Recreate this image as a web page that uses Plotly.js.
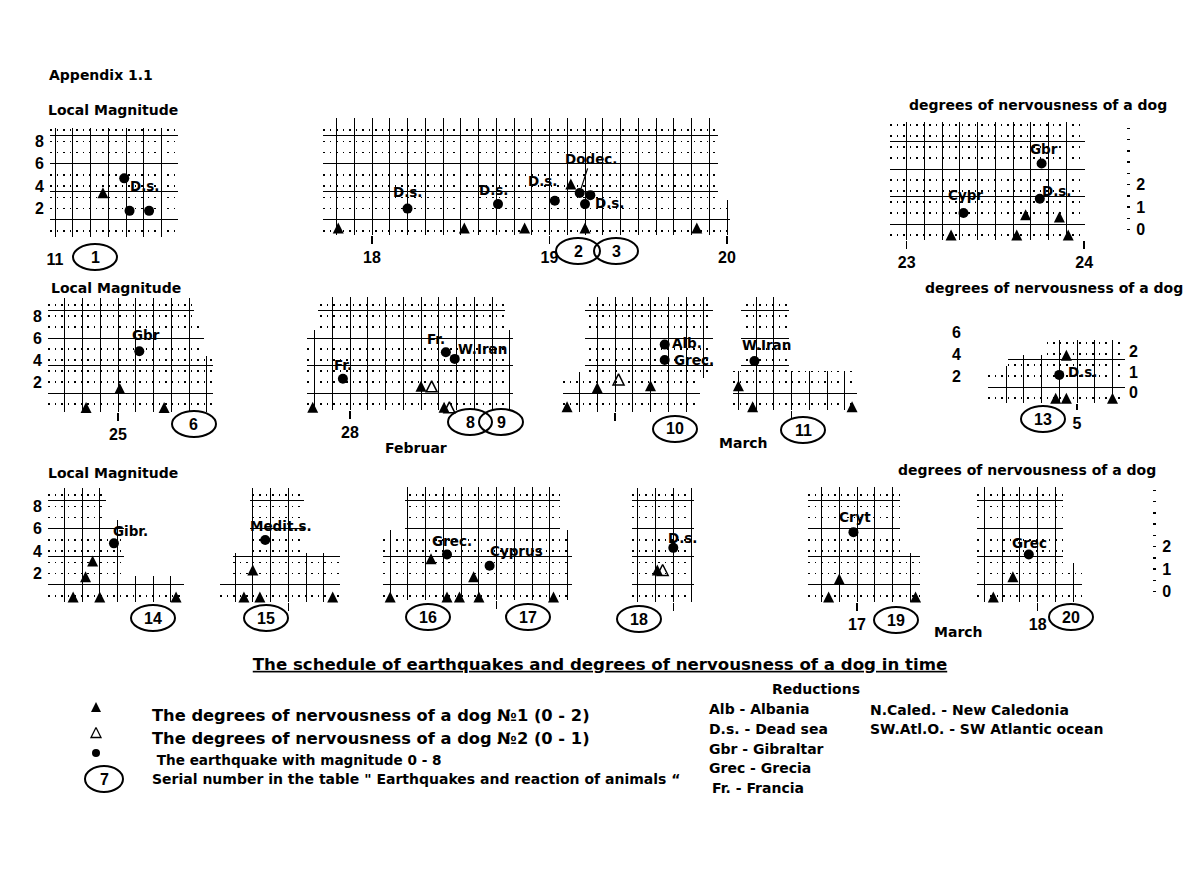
<!DOCTYPE html>
<html><head><meta charset="utf-8">
<script src="https://cdn.plot.ly/plotly-3.0.1.min.js"></script>
<style>html,body{margin:0;padding:0;background:#fff}#chart{width:1200px;height:869px}</style>
</head><body><div id="chart"></div>
<script>
// ================= DATA =================
// x = day of month, quake = local magnitude (0-8), dog = degree of nervousness (0-2)
// Panel serial 1 (day 11)
const p01_dog1_day = [11.27];
const p01_dog1_deg = [1.6];
const p01_quake_day = [11.39, 11.42, 11.53];
const p01_quake_mag = [4.7, 1.8, 1.8];
const p01_quake_place = ['D.s.', '', ''];
const p01_date_ticks = [11];
const p01_date_labels = ['11'];
const p01_mag_ticks = [2, 4, 6, 8];
// Panel serials 2,3 (days 18-20)
const p02_dog1_day = [17.81, 18.52, 18.86, 19.12, 19.20, 19.83];
const p02_dog1_deg = [0, 0, 0, 2.0, 0, 0];
const p02_quake_day = [18.20, 18.71, 19.03, 19.17, 19.23, 19.20];
const p02_quake_mag = [2.0, 2.4, 2.7, 3.4, 3.2, 2.4];
const p02_quake_place = ['D.s.', 'D.s.', 'D.s.', 'Dodec.', '', 'D.s.'];
const p02_date_ticks = [18, 19, 20];
const p02_date_labels = ['18', '19', '20'];
// Panel days 23-24
const p03_dog1_day = [23.25, 23.62, 23.67, 23.86, 23.91];
const p03_dog1_deg = [0, 0, 0.9, 0.8, 0];
const p03_quake_day = [23.32, 23.76, 23.75];
const p03_quake_mag = [2.0, 6.5, 3.3];
const p03_quake_place = ['Cypr', 'Gbr', 'D.s.'];
const p03_date_ticks = [23, 24];
const p03_date_labels = ['23', '24'];
const p03_dog_ticks = [0, 1, 2];
// Panel serial 6 (day 25)
const p06_dog1_day = [24.82, 25.01, 25.26];
const p06_dog1_deg = [0, 0.9, 0];
const p06_quake_day = [25.12];
const p06_quake_mag = [4.8];
const p06_quake_place = ['Gbr'];
const p06_date_ticks = [25];
const p06_date_labels = ['25'];
const p06_mag_ticks = [2, 4, 6, 8];
// Panel serials 8,9 (day 28, Februar)
const p08_dog1_day = [27.79, 28.40, 28.53];
const p08_dog1_deg = [0, 1.0, 0];
const p08_dog2_day = [28.46, 28.56];
const p08_dog2_deg = [1.0, 0];
const p08_quake_day = [27.96, 28.54, 28.59];
const p08_quake_mag = [2.3, 4.7, 4.1];
const p08_quake_place = ['Fr.', 'Fr.', 'W.Iran'];
const p08_date_ticks = [28];
const p08_date_labels = ['28'];
// Panel serial 10 (March)
const p10_dog1_day = [1.73, 1.90, 2.20];
const p10_dog1_deg = [0, 0.9, 1.0];
const p10_dog2_day = [2.02];
const p10_dog2_deg = [1.3];
const p10_quake_day = [2.28, 2.28];
const p10_quake_mag = [5.4, 4.0];
const p10_quake_place = ['Alb.', 'Grec.'];
const p10_date_ticks = [2];
const p10_date_labels = [''];
// Panel serial 11
const p11_dog1_day = [3.70, 3.78, 4.34];
const p11_dog1_deg = [1.0, 0, 0];
const p11_quake_day = [3.79];
const p11_quake_mag = [3.9];
const p11_quake_place = ['W.Iran'];
const p11_date_ticks = [4];
const p11_date_labels = [''];
// Panel serial 13 (day 5)
const p13_dog1_day = [4.88, 4.94, 4.94, 5.20];
const p13_dog1_deg = [0, 2.1, 0, 0];
const p13_quake_day = [4.90];
const p13_quake_mag = [2.1];
const p13_quake_place = ['D.s.'];
const p13_date_ticks = [5];
const p13_date_labels = ['5'];
const p13_mag_ticks = [2, 4, 6];
const p13_dog_ticks = [0, 1, 2];
// Panel serial 14
const p14_dog1_day = [9.55, 9.62, 9.66, 9.70, 10.13];
const p14_dog1_deg = [0, 0.9, 1.6, 0, 0];
const p14_quake_day = [9.78];
const p14_quake_mag = [4.7];
const p14_quake_place = ['Gibr.'];
const p14_mag_ticks = [2, 4, 6, 8];
// Panel serial 15
const p15_dog1_day = [11.75, 11.80, 11.84, 12.25];
const p15_dog1_deg = [0, 1.2, 0, 0];
const p15_quake_day = [11.87];
const p15_quake_mag = [5.0];
const p15_quake_place = ['Medit.s.'];
const p15_date_ticks = [12];
const p15_date_labels = [''];
// Panel serials 16,17
const p16_dog1_day = [13.40, 13.63, 13.72, 13.79, 13.87, 13.90, 14.32];
const p16_dog1_deg = [0, 1.7, 0, 0, 0.9, 0, 0];
const p16_quake_day = [13.72, 13.96];
const p16_quake_mag = [3.7, 2.7];
const p16_quake_place = ['Grec.', 'Cyprus'];
const p16_date_ticks = [14];
const p16_date_labels = [''];
// Panel serial 18
const p18_dog1_day = [15.91];
const p18_dog1_deg = [1.2];
const p18_dog2_day = [15.94];
const p18_dog2_deg = [1.2];
const p18_quake_day = [16.00];
const p18_quake_mag = [4.3];
const p18_quake_place = ['D.s.'];
const p18_date_ticks = [16];
const p18_date_labels = [''];
// Panel serial 19 (day 17, March)
const p19_dog1_day = [16.84, 16.90, 17.33];
const p19_dog1_deg = [0, 0.8, 0];
const p19_quake_day = [16.98];
const p19_quake_mag = [5.7];
const p19_quake_place = ['Cryt'];
const p19_date_ticks = [17];
const p19_date_labels = ['17'];
// Panel serial 20 (day 18)
const p20_dog1_day = [17.75, 17.86];
const p20_dog1_deg = [0, 0.9];
const p20_quake_day = [17.95];
const p20_quake_mag = [3.7];
const p20_quake_place = ['Grec'];
const p20_date_ticks = [18];
const p20_date_labels = ['18'];
const p20_dog_ticks = [0, 1, 2];

// serial numbers of the table "Earthquakes and reaction of animals"
const serial_numbers = ['1', '2', '3', '6', '8', '9', '10', '11', '13', '14', '15', '16', '17', '18', '19', '20'];
const legend_texts = [
  'The degrees of nervousness of a dog №1 (0 - 2)',
  'The degrees of nervousness of a dog №2 (0 - 1)',
  ' The earthquake with magnitude 0 - 8',
  'Serial number in the table " Earthquakes and reaction of animals “'
];
const legend_serial = '7';
const reductions_left = ['Alb - Albania', 'D.s. - Dead sea', 'Gbr - Gibraltar', 'Grec - Grecia', 'Fr. - Francia'];
const reductions_right = ['N.Caled. - New Caledonia', 'SW.Atl.O. - SW Atlantic ocean'];

// ================= LAYOUT / STYLE =================
const W = 1200, H = 869, PX_PER_DAY = 177.5, TRI = 11;
const BLACK = '#000';
const TXT = {family: 'DejaVu Sans, sans-serif', size: 14, color: BLACK, weight: 'bold'};
const NUM = {family: 'Liberation Sans, Arial, sans-serif', size: 16, color: BLACK, weight: 'bold'};
const LBL = {family: 'DejaVu Sans, sans-serif', size: 13.5, color: BLACK, weight: 'bold'};
const fx = p => p / W;
const fy = p => 1 - p / H;

// box = [left, right, top, bottom] in px; masks = blank (white) parts of the hand-drawn grids, px
const panels = [
  {dog1: [p01_dog1_day, p01_dog1_deg], quake: [p01_quake_day, p01_quake_mag, p01_quake_place], dates: [p01_date_ticks, p01_date_labels], magTicks: p01_mag_ticks,
   box: [50, 178, 128, 237], anchor: [11, 55], mag0: 231, mu: 11.2, dog0: 228, du: 22, tickInk: false, offsets: [[21, 8], [0, 0], [0, 0]]},
  {dog1: [p02_dog1_day, p02_dog1_deg], quake: [p02_quake_day, p02_quake_mag, p02_quake_place], dates: [p02_date_ticks, p02_date_labels],
   box: [323, 730, 118, 235], anchor: [18, 372], mag0: 231, mu: 11.2, dog0: 228, du: 22, offsets: [[0, -17], [-4, -14], [-12, -20], [11, -34], [0, 0], [25, -1]], arrowIdx: 3,
   masks: [[718, 732, 116, 200]]},
  {dog1: [p03_dog1_day, p03_dog1_deg], quake: [p03_quake_day, p03_quake_mag, p03_quake_place], dates: [p03_date_ticks, p03_date_labels], dogTicks: p03_dog_ticks,
   box: [890, 1085, 122, 240], anchor: [23, 906.7], mag0: 235, mu: 11, dog0: 235, du: 22.5, dogPos: 1126, dashes: true, offsets: [[2, -18], [2, -15], [17, -8]]},
  {dog1: [p06_dog1_day, p06_dog1_deg], quake: [p06_quake_day, p06_quake_mag, p06_quake_place], dates: [p06_date_ticks, p06_date_labels], magTicks: p06_mag_ticks,
   box: [48, 213, 298, 412], anchor: [25, 118], mag0: 404, mu: 11, dog0: 407.5, du: 21, offsets: [[7, -16]],
   masks: [[194, 215, 296, 320], [204, 215, 320, 356]]},
  {dog1: [p08_dog1_day, p08_dog1_deg], dog2: [p08_dog2_day, p08_dog2_deg], quake: [p08_quake_day, p08_quake_mag, p08_quake_place], dates: [p08_date_ticks, p08_date_labels],
   box: [307, 513, 297, 410], anchor: [28, 350], mag0: 404, mu: 11, dog0: 407.3, du: 21, offsets: [[0, -14], [-10, -13], [28, -10]],
   masks: [[305, 318, 295, 330], [505, 515, 295, 330]]},
  {dog1: [p10_dog1_day, p10_dog1_deg], dog2: [p10_dog2_day, p10_dog2_deg], quake: [p10_quake_day, p10_quake_mag, p10_quake_place], dates: [p10_date_ticks, p10_date_labels],
   box: [563, 713, 297, 412], anchor: [2, 615], mag0: 404, mu: 11, dog0: 406.7, du: 21, offsets: [[22, -2], [29, 0]],
   masks: [[561, 585, 295, 372], [700, 715, 378, 414]]},
  {dog1: [p11_dog1_day, p11_dog1_deg], quake: [p11_quake_day, p11_quake_mag, p11_quake_place], dates: [p11_date_ticks, p11_date_labels],
   box: [733, 857, 297, 410], anchor: [4, 791.7], mag0: 404, mu: 11, dog0: 406.7, du: 21, offsets: [[12, -16]],
   masks: [[789, 859, 295, 371], [731, 741, 295, 371]]},
  {dog1: [p13_dog1_day, p13_dog1_deg], quake: [p13_quake_day, p13_quake_mag, p13_quake_place], dates: [p13_date_ticks, p13_date_labels], magTicks: p13_mag_ticks, dogTicks: p13_dog_ticks,
   box: [988, 1125, 327, 403], anchor: [5, 1077], mag0: 398, mu: 11, dog0: 398.3, du: 20.5, magPos: 966, dogPos: 1125, dashes: false, tickLen: 6, offsets: [[24, -3]],
   masks: [[986, 1127, 325, 340], [986, 1045, 340, 355], [986, 1008, 355, 366]]},
  {dog1: [p14_dog1_day, p14_dog1_deg], quake: [p14_quake_day, p14_quake_mag, p14_quake_place], magTicks: p14_mag_ticks,
   box: [48, 184, 488, 602], anchor: [10, 153], mag0: 596, mu: 11.2, dog0: 597, du: 22.5, offsets: [[17, -12]],
   masks: [[106, 186, 486, 520], [124, 186, 520, 576]]},
  {dog1: [p15_dog1_day, p15_dog1_deg], quake: [p15_quake_day, p15_quake_mag, p15_quake_place], dates: [p15_date_ticks, p15_date_labels],
   box: [220, 340, 488, 602], anchor: [12, 288.3], mag0: 596, mu: 11.2, dog0: 597, du: 22.5, offsets: [[16, -14]],
   masks: [[218, 250, 486, 553], [304, 342, 486, 553], [218, 233, 553, 575]]},
  {dog1: [p16_dog1_day, p16_dog1_deg], quake: [p16_quake_day, p16_quake_mag, p16_quake_place], dates: [p16_date_ticks, p16_date_labels],
   box: [383, 572, 487, 600], anchor: [14, 496.7], mag0: 596, mu: 11.2, dog0: 597, du: 22.5, offsets: [[5, -14], [27, -15]],
   masks: [[381, 405, 485, 530], [560, 574, 485, 530]]},
  {dog1: [p18_dog1_day, p18_dog1_deg], dog2: [p18_dog2_day, p18_dog2_deg], quake: [p18_quake_day, p18_quake_mag, p18_quake_place], dates: [p18_date_ticks, p18_date_labels],
   box: [632, 694, 488, 602], anchor: [16, 673.3], mag0: 596, mu: 11.2, dog0: 597, du: 22.5, offsets: [[10, -10]]},
  {dog1: [p19_dog1_day, p19_dog1_deg], quake: [p19_quake_day, p19_quake_mag, p19_quake_place], dates: [p19_date_ticks, p19_date_labels],
   box: [808, 920, 487, 602], anchor: [17, 857], mag0: 596, mu: 11.2, dog0: 597, du: 22.5, offsets: [[2, -15]],
   masks: [[900, 922, 485, 553]]},
  {dog1: [p20_dog1_day, p20_dog1_deg], quake: [p20_quake_day, p20_quake_mag, p20_quake_place], dates: [p20_date_ticks, p20_date_labels], dogTicks: p20_dog_ticks,
   box: [977, 1082, 487, 602], anchor: [18, 1037.7], mag0: 596, mu: 11.2, dog0: 597, du: 22.5, dogPos: 1152, dashes: true, offsets: [[1, -12]],
   masks: [[1063, 1084, 485, 563]]}
];

// ellipse centres (px) for serial_numbers, in the same order
const ellipse_centers = [[95, 257], [578, 251], [616, 251], [194, 424], [470, 422], [501, 422], [675, 429], [803, 430],
  [1043, 419], [153, 618], [266, 618], [428, 617], [528, 617], [639, 619], [896, 620], [1071, 617]];

const layout = {
  width: W, height: H, margin: {l: 0, r: 0, t: 0, b: 0},
  paper_bgcolor: '#fff', plot_bgcolor: 'rgba(0,0,0,0)',
  showlegend: false, hovermode: false,
  annotations: [], shapes: [],
  title: {text: '<u>The schedule of earthquakes and degrees of nervousness of a dog in time</u>',
    x: fx(600), y: fy(664), xref: 'paper', yref: 'paper', xanchor: 'center', yanchor: 'middle',
    font: {family: 'DejaVu Sans, sans-serif', size: 16.6, color: BLACK, weight: 'bold'}}
};
const traces = [];
let xn = 0, yn = 0;
const newAx = l => { const n = (l === 'x') ? ++xn : ++yn; return n === 1 ? l : l + n; };
const key = id => id[0] + 'axis' + id.slice(1);
const noHover = 'skip';

panels.forEach(P => {
  const [x0, x1, y0, y1] = P.box;
  const [aDay, aPx] = P.anchor;
  const toDay = px => aDay + (px - aPx) / PX_PER_DAY;
  const toMag = py => (P.mag0 - py) / P.mu;
  const xr = [toDay(x0), toDay(x1)];
  const magR = [toMag(y1), toMag(y0)];
  const tip0 = P.dog0 - TRI / 2;
  const dogR = [(tip0 - y1) / P.du, (tip0 - y0) / P.du];
  const xg = newAx('x'), yg = newAx('y'), yd = newAx('y');
  layout[key(xg)] = {type: 'linear', domain: [fx(x0), fx(x1)], range: xr, anchor: yg,
    showgrid: true, gridcolor: BLACK, gridwidth: 1, tick0: 0, dtick: 0.1,
    showticklabels: false, ticks: '', zeroline: false, showline: false, fixedrange: true};
  layout[key(yg)] = {type: 'linear', domain: [fy(y1), fy(y0)], range: magR, anchor: xg,
    showgrid: true, gridcolor: BLACK, gridwidth: 1, tick0: 1, dtick: 2.5,
    showticklabels: false, ticks: '', zeroline: false, showline: false, fixedrange: true,
    minor: {tick0: 0, dtick: 1, showgrid: true, gridcolor: BLACK, gridwidth: 1.5, griddash: '1.5px,5px'}};
  const ydAx = {type: 'linear', overlaying: yg, range: dogR, showgrid: false, zeroline: false, showline: false, fixedrange: true};
  if (P.dogTicks) {
    Object.assign(ydAx, {anchor: 'free', position: fx(P.dogPos), side: 'right', tickmode: 'array',
      tickvals: P.dogTicks, ticks: P.dashes ? 'outside' : '', ticklen: 3, tickwidth: 1.5, tickcolor: BLACK,
      ticklabelshift: -TRI / 2, ticklabelstandoff: 3, tickfont: NUM});
    if (P.dashes) ydAx.minor = {dtick: 0.5, tick0: 0, ticks: 'outside', ticklen: 3, tickwidth: 1.5, tickcolor: BLACK};
  } else {
    ydAx.anchor = xg; ydAx.visible = false;
  }
  layout[key(yd)] = ydAx;

  // white masks carving the irregular outline of the hand-drawn grid
  (P.masks || []).forEach(m => layout.shapes.push({type: 'rect', xref: xg, yref: yg, layer: 'between',
    x0: toDay(m[0]), x1: toDay(m[1]), y0: toMag(m[3]), y1: toMag(m[2]), fillcolor: '#fff', line: {width: 0}}));

  if (P.dates) {
    const xl = newAx('x');
    layout[key(xl)] = {type: 'linear', overlaying: xg, anchor: yg, side: 'bottom', range: xr,
      tickmode: 'array', tickvals: P.dates[0], ticktext: P.dates[1], ticks: 'outside',
      ticklen: P.tickLen || 8, tickwidth: 1.5, tickcolor: P.tickInk === false ? 'rgba(0,0,0,0)' : BLACK,
      showgrid: false, zeroline: false, showline: false, tickfont: NUM, fixedrange: true};
    traces.push({type: 'scatter', x: [], y: [], xaxis: xl, yaxis: yg, hoverinfo: noHover});
  }
  if (P.magTicks) {
    const yl = newAx('y');
    const ax = {type: 'linear', overlaying: yg, range: magR, side: 'left', tickmode: 'array', tickvals: P.magTicks,
      ticks: '', showgrid: false, zeroline: false, showline: false, tickfont: NUM, ticklabelstandoff: 5, fixedrange: true};
    if (P.magPos) { ax.anchor = 'free'; ax.position = fx(P.magPos); } else { ax.anchor = xg; }
    layout[key(yl)] = ax;
    traces.push({type: 'scatter', x: [], y: [], xaxis: xg, yaxis: yl, hoverinfo: noHover});
  }
  // earthquakes
  traces.push({type: 'scatter', mode: 'markers', x: P.quake[0], y: P.quake[1], xaxis: xg, yaxis: yg,
    marker: {symbol: 'circle', size: 10, color: BLACK}, cliponaxis: false, hoverinfo: noHover});
  // dog No1
  traces.push({type: 'scatter', mode: 'markers', x: P.dog1[0], y: P.dog1[1], xaxis: xg, yaxis: yd,
    marker: {symbol: 'arrow-up', size: TRI, color: BLACK, line: {width: 0}}, cliponaxis: false, hoverinfo: noHover});
  // dog No2
  if (P.dog2) traces.push({type: 'scatter', mode: 'markers', x: P.dog2[0], y: P.dog2[1], xaxis: xg, yaxis: yd,
    marker: {symbol: 'arrow-up-open', size: TRI, color: BLACK, line: {color: BLACK, width: 1.5}}, cliponaxis: false, hoverinfo: noHover});
  // place labels
  P.quake[2].forEach((t, i) => {
    if (!t) return;
    const [dx, dy] = P.offsets[i];
    const a = {xref: xg, yref: yg, x: P.quake[0][i], y: P.quake[1][i], text: t, font: LBL};
    if (P.arrowIdx === i) {
      Object.assign(a, {showarrow: true, ax: dx, ay: dy, arrowhead: 0, arrowwidth: 1.2, arrowcolor: BLACK, standoff: 5});
    } else {
      Object.assign(a, {showarrow: false, xshift: dx, yshift: -dy});
    }
    layout.annotations.push(a);
  });
});

// ---- paper texts ----
function paperText(text, x, y, font, xanchor) {
  layout.annotations.push({text: text, xref: 'paper', yref: 'paper', x: fx(x), y: fy(y),
    xanchor: xanchor || 'center', yanchor: 'middle', showarrow: false, font: font});
}
paperText('Appendix 1.1', 101, 75, TXT);
[[113, 110], [116, 288], [113, 473]].forEach(p => paperText('Local Magnitude', p[0], p[1], TXT));
[[1038, 105], [1054, 288], [1027, 470]].forEach(p => paperText('degrees of nervousness of a dog', p[0], p[1], TXT));
paperText('Februar', 416, 448, TXT);
paperText('March', 743, 443, TXT);
paperText('March', 958, 632, TXT);

// ---- serial-number ellipses ----
function ellipse(label, cx, cy, w, h) {
  layout.shapes.push({type: 'circle', xref: 'paper', yref: 'paper', x0: fx(cx - w / 2), x1: fx(cx + w / 2),
    y0: fy(cy + h / 2), y1: fy(cy - h / 2), line: {color: BLACK, width: 2}, fillcolor: 'rgba(0,0,0,0)'});
  paperText(label, cx, cy, NUM);
}
serial_numbers.forEach((s, i) => ellipse(s, ellipse_centers[i][0], ellipse_centers[i][1], 44, 26));

// ---- legend ----
const xL = newAx('x'), yL = newAx('y');
layout[key(xL)] = {type: 'linear', domain: [fx(86), fx(106)], range: [-1, 1], visible: false, anchor: yL, fixedrange: true};
layout[key(yL)] = {type: 'linear', domain: [fy(790), fy(690)], range: [(790 - 702) / 25.5, (690 - 702) / 25.5], visible: false, anchor: xL, fixedrange: true};
traces.push({type: 'scatter', mode: 'markers', x: [0], y: [0], xaxis: xL, yaxis: yL, marker: {symbol: 'arrow-up', size: 10, color: BLACK}, cliponaxis: false, hoverinfo: noHover});
traces.push({type: 'scatter', mode: 'markers', x: [0], y: [1], xaxis: xL, yaxis: yL, marker: {symbol: 'arrow-up-open', size: 10, color: BLACK, line: {color: BLACK, width: 1.3}}, cliponaxis: false, hoverinfo: noHover});
traces.push({type: 'scatter', mode: 'markers', x: [0], y: [2], xaxis: xL, yaxis: yL, marker: {symbol: 'circle', size: 8, color: BLACK}, cliponaxis: false, hoverinfo: noHover});
const legendFontSizes = [16.3, 16.3, 13.6, 14];
[715, 738, 760, 779].forEach((y, i) => paperText(legend_texts[i], 150, y,
  {family: 'DejaVu Sans, sans-serif', size: legendFontSizes[i], color: BLACK, weight: 'bold'}, 'left'));
ellipse(legend_serial, 104, 779, 38, 26);

// ---- reductions ----
paperText('Reductions', 816, 689, TXT);
[709, 729, 749, 768, 788].forEach((y, i) => paperText(reductions_left[i], i === 4 ? 710 : 707, y, TXT, 'left'));
[710, 729].forEach((y, i) => paperText(reductions_right[i], 868, y, TXT, 'left'));

Plotly.newPlot('chart', traces, layout, {displayModeBar: false, staticPlot: true});
</script>
</body></html>
